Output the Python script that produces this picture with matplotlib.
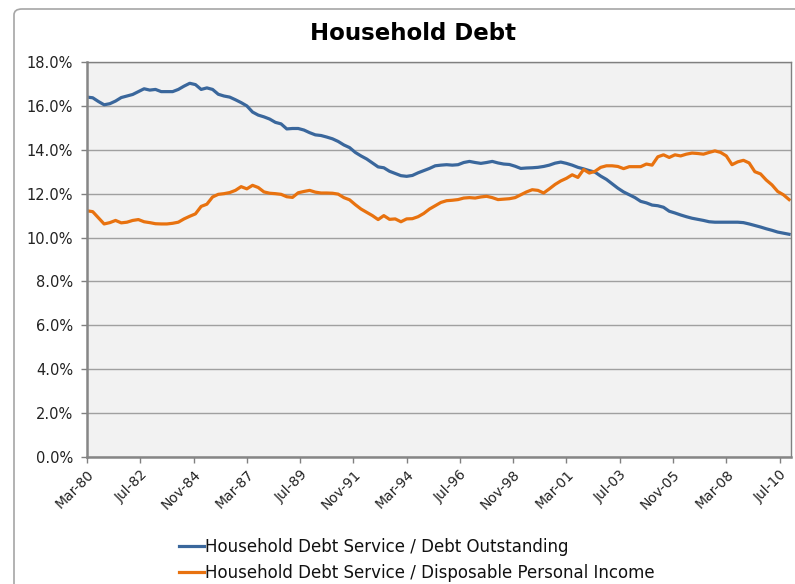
import numpy as np
import matplotlib.pyplot as plt
from matplotlib.patches import FancyBboxPatch
from matplotlib.ticker import FuncFormatter

# quarterly values, Q1 1980 .. Q4 2010 (percent)
debt_outstanding = [
    16.40, 16.37, 16.20, 16.05, 16.10, 16.22, 16.38, 16.45, 16.52, 16.65,
    16.78, 16.72, 16.75, 16.65, 16.65, 16.65, 16.75, 16.90, 17.03, 16.97,
    16.75, 16.82, 16.75, 16.53, 16.45, 16.40, 16.28, 16.15, 16.00, 15.72,
    15.58, 15.50, 15.40, 15.25, 15.18, 14.95, 14.97, 14.97, 14.90, 14.78,
    14.68, 14.65, 14.58, 14.50, 14.38, 14.22, 14.10, 13.88, 13.72, 13.58,
    13.40, 13.22, 13.18, 13.02, 12.92, 12.82, 12.79, 12.83, 12.95, 13.05,
    13.15, 13.27, 13.30, 13.32, 13.30, 13.32, 13.42, 13.47, 13.42, 13.38,
    13.42, 13.47, 13.40, 13.35, 13.33, 13.25, 13.15, 13.17, 13.18, 13.20,
    13.24, 13.30, 13.39, 13.44, 13.38, 13.30, 13.20, 13.13, 13.05, 12.98,
    12.80, 12.65, 12.45, 12.25, 12.08, 11.95, 11.82, 11.65, 11.58, 11.48,
    11.45, 11.38, 11.20, 11.12, 11.03, 10.95, 10.88, 10.83, 10.78, 10.72,
    10.70, 10.70, 10.70, 10.70, 10.70, 10.68, 10.62, 10.55, 10.48, 10.40,
    10.33, 10.25, 10.20, 10.15,
]
disposable_income = [
    11.22, 11.18, 10.90, 10.62, 10.68, 10.78, 10.67, 10.70, 10.78, 10.82,
    10.72, 10.68, 10.63, 10.62, 10.62, 10.65, 10.70, 10.85, 10.97, 11.08,
    11.42, 11.52, 11.85, 11.97, 12.00, 12.05, 12.15, 12.32, 12.22, 12.38,
    12.28, 12.08, 12.02, 12.00, 11.97, 11.86, 11.83, 12.04, 12.10, 12.15,
    12.07, 12.03, 12.03, 12.02, 11.98, 11.82, 11.72, 11.50, 11.30, 11.15,
    11.00, 10.82, 11.00, 10.83, 10.85, 10.72, 10.85, 10.86, 10.95, 11.10,
    11.30, 11.45, 11.60, 11.68, 11.70, 11.73, 11.80, 11.82, 11.80, 11.85,
    11.88, 11.82, 11.73, 11.75, 11.77, 11.82, 11.95, 12.08, 12.18, 12.15,
    12.03, 12.22, 12.42, 12.58, 12.70, 12.86, 12.74, 13.10, 12.94, 13.02,
    13.20, 13.27, 13.27, 13.24, 13.14, 13.23, 13.23, 13.23, 13.35, 13.30,
    13.68, 13.77, 13.65, 13.77, 13.72, 13.80, 13.85, 13.83, 13.80, 13.88,
    13.95, 13.88, 13.72, 13.32, 13.45, 13.52, 13.40, 13.00, 12.90, 12.62,
    12.40, 12.10, 11.95, 11.73,
]
tick_labels = ['Mar-80', 'Jul-82', 'Nov-84', 'Mar-87', 'Jul-89', 'Nov-91', 'Mar-94',
               'Jul-96', 'Nov-98', 'Mar-01', 'Jul-03', 'Nov-05', 'Mar-08', 'Jul-10']
series_names = ['Household Debt Service / Debt Outstanding',
                'Household Debt Service / Disposable Personal Income']

# months since Mar-80
months = np.arange(len(debt_outstanding)) * 3
tick_pos = np.arange(len(tick_labels)) * 28

fig = plt.figure(figsize=(7.95, 5.84), dpi=100)

# chart area border (runs off the right/bottom edge)
border = FancyBboxPatch((14 / 795, -0.1), 1.2, (584 - 9) / 584 + 0.1,
                        boxstyle='round,pad=0,rounding_size=0.01',
                        transform=fig.transFigure, facecolor='none',
                        edgecolor='#A6A6A6', linewidth=1.2, zorder=-1)
fig.patches.append(border)

ax = fig.add_axes([87 / 795, 1 - 457 / 584, (791 - 87) / 795, (457 - 62) / 584])
ax.set_facecolor('#F2F2F2')

ax.plot(months, debt_outstanding, color='#3A679C', lw=2.3, label=series_names[0])
ax.plot(months, disposable_income, color='#E8720F', lw=2.3, label=series_names[1])

ax.set_xlim(0, 370)
ax.set_ylim(0, 18)
ax.set_yticks(np.arange(0, 18.1, 2))
ax.yaxis.set_major_formatter(FuncFormatter(lambda v, p: f'{v:.1f}%'))
ax.set_xticks(tick_pos)
ax.set_xticklabels(tick_labels, rotation=45, ha='right', rotation_mode='anchor')

ax.grid(axis='y', color='#A0A0A0', lw=1)
ax.set_axisbelow(True)
ax.tick_params(axis='both', labelsize=10.5, colors='#808080', labelcolor='#222222',
               length=4, width=1)
ax.tick_params(axis='y', pad=6)
ax.tick_params(axis='x', labelsize=10)
for side in ['top', 'right']:
    ax.spines[side].set_color('#808080')
    ax.spines[side].set_linewidth(1)
for side in ['left', 'bottom']:
    ax.spines[side].set_color('#868686')
    ax.spines[side].set_linewidth(1.8)

fig.text(413 / 795, 1 - 33 / 584, 'Household Debt', ha='center', va='center',
         fontsize=16.5, fontweight='bold', color='black')

leg = fig.legend(loc='upper left', bbox_to_anchor=(172 / 795, 1 - 531 / 584),
                 frameon=False, fontsize=12, handlelength=1.5, handletextpad=0.1,
                 labelspacing=0.5, borderaxespad=0)
for t in leg.get_texts():
    t.set_color('#111111')

fig.savefig('out.png', dpi=100)
